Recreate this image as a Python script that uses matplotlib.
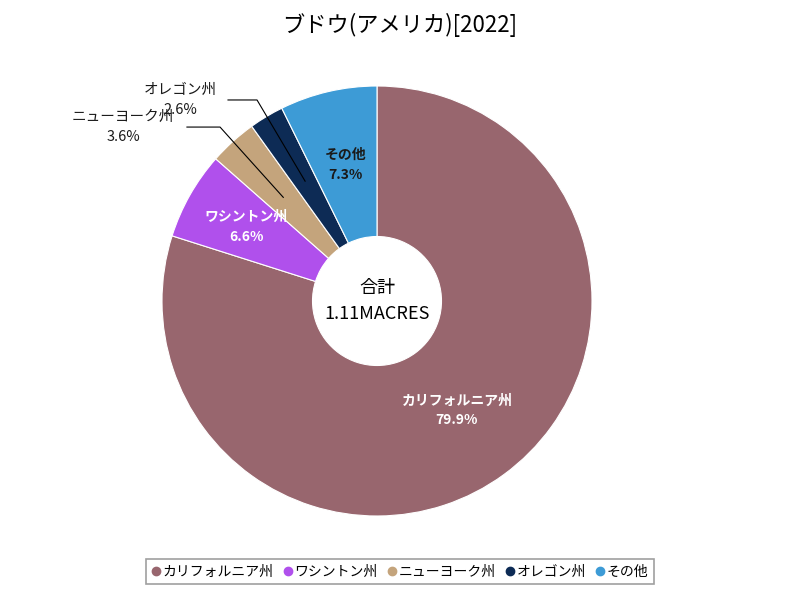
import matplotlib
matplotlib.use('Agg')
import matplotlib.pyplot as plt
import numpy as np

plt.rcParams['font.family'] = ['Noto Sans CJK JP', 'DejaVu Sans']

labels = ['カリフォルニア州', 'ワシントン州', 'ニューヨーク州', 'オレゴン州', 'その他']
shares = [79.9, 6.6, 3.6, 2.6, 7.3]
colors = ['#98666e', '#b050ec', '#c4a47c', '#0d2b55', '#3d9bd6']
title = 'ブドウ(アメリカ)[2022]'
total_text = '合計\n1.11MACRES'

fig = plt.figure(figsize=(8, 6), dpi=100)
ax = fig.add_axes([0, 0, 1, 1])

wedges, _ = ax.pie(shares, colors=colors, startangle=90, counterclock=False,
                   radius=1.0, wedgeprops=dict(width=0.7, edgecolor='white', linewidth=0.8))

ax.set_xlim(-377 / 215, 423 / 215)
ax.set_ylim(-299 / 215, 301 / 215)
ax.set_aspect('equal')
ax.axis('off')

def mid(w):
    a = np.deg2rad((w.theta1 + w.theta2) / 2)
    return np.cos(a), np.sin(a)

# inside labels
inside = {0: ('white', 0.63), 1: ('white', 0.70), 4: ('#1a1a1a', 0.65)}
for i, (c, r) in inside.items():
    cx, cy = mid(wedges[i])
    ax.text(cx * r, cy * r, f'{labels[i]}\n{shares[i]:.1f}%', ha='center', va='center',
            fontsize=10, fontweight='bold', color=c, linespacing=1.5)

# outside labels with leader lines
outside = {3: ((-0.916, 0.935), (-0.693, 0.935), (-0.558, 0.935)),
           2: ((-1.181, 0.809), (-0.884, 0.809), (-0.730, 0.809))}
for i, (tpos, p0, p1) in outside.items():
    cx, cy = mid(wedges[i])
    ax.plot([p0[0], p1[0], cx * 0.65], [p0[1], p1[1], cy * 0.65], color='black', lw=0.8)
    ax.text(tpos[0], tpos[1], f'{labels[i]}\n{shares[i]:.1f}%', ha='center', va='center',
            fontsize=10.5, color='#1a1a1a', linespacing=1.5)

ax.text(0, 0, total_text, ha='center', va='center', fontsize=13, linespacing=1.6)

fig.text(0.5, 0.958, title, ha='center', va='center', fontsize=16)

handles = [plt.Line2D([], [], marker='o', ls='', color=c, markersize=6) for c in colors]
leg = fig.legend(handles, labels, loc='center', bbox_to_anchor=(0.5, 0.047), ncol=5,
                 fontsize=10, frameon=True, fancybox=False, handlelength=0.6,
                 handletextpad=0.2, columnspacing=0.7, borderpad=0.4)
leg.get_frame().set_edgecolor('#888888')
leg.get_frame().set_linewidth(1.2)

fig.savefig('out.png', dpi=100)
